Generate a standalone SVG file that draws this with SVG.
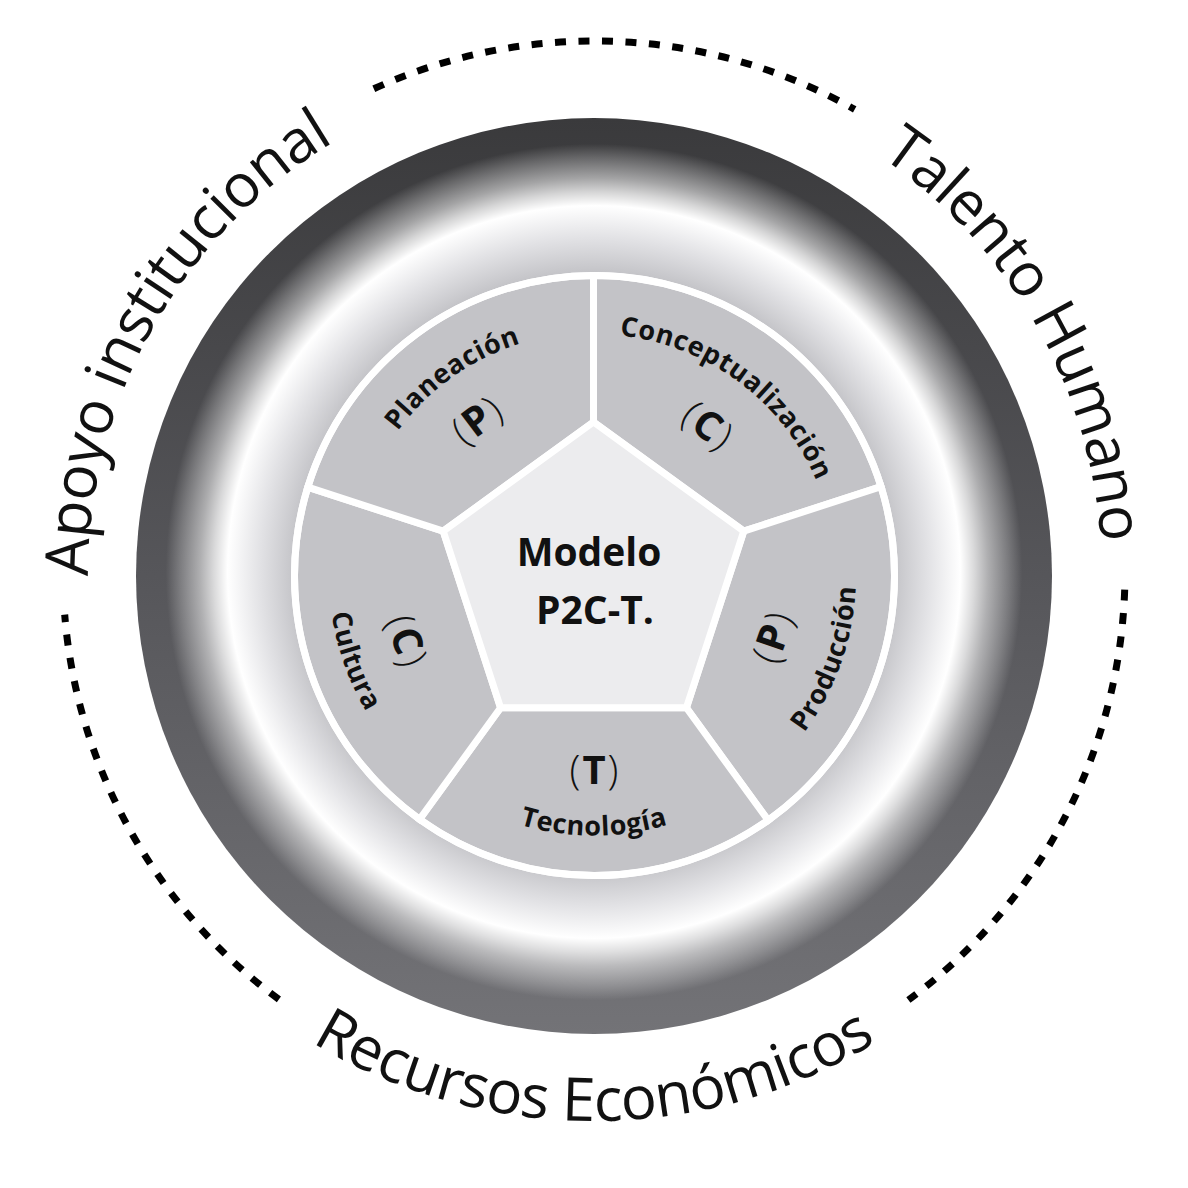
<svg xmlns="http://www.w3.org/2000/svg" xmlns:xlink="http://www.w3.org/1999/xlink" width="1188" height="1188" viewBox="0 0 1188 1188">
  <style>
    .outer { font-family: "Open Sans", "Noto Sans", "DejaVu Sans", sans-serif; font-size: 60px; font-weight: 400; fill: #111; letter-spacing: -0.6px; }
    .seg { font-family: "Open Sans", "Noto Sans", "DejaVu Sans", sans-serif; font-size: 27px; font-weight: 700; fill: #111; letter-spacing: 0.6px; }
    .par { font-family: "Open Sans", "Noto Sans", "DejaVu Sans", sans-serif; font-size: 40px; font-weight: 300; fill: #111; letter-spacing: 2px; }
    .par .b { font-weight: 700; }
    .center { font-family: "Open Sans", "Noto Sans", "DejaVu Sans", sans-serif; font-size: 39px; font-weight: 700; fill: #111; }
    .segshape { fill: #c3c3c7; stroke: #ffffff; stroke-width: 7; stroke-linejoin: miter; }
    .dots { fill: none; stroke: #000; stroke-width: 7; stroke-dasharray: 11 12.5; }
  </style>
  <defs>
    <linearGradient id="darkGrad" gradientUnits="userSpaceOnUse" x1="0" y1="118" x2="0" y2="1034">
      <stop offset="0" stop-color="#3a3a3c"/>
      <stop offset="0.5" stop-color="#56565a"/>
      <stop offset="1" stop-color="#737377"/>
    </linearGradient>
    <radialGradient id="lightGrad" gradientUnits="userSpaceOnUse" cx="594" cy="572" r="458">
      <stop offset="0" stop-color="#c4c4c8" stop-opacity="1"/>
      <stop offset="0.655" stop-color="#c4c4c8" stop-opacity="1"/>
      <stop offset="0.73" stop-color="#e2e2e5" stop-opacity="1"/>
      <stop offset="0.80" stop-color="#ffffff" stop-opacity="1"/>
      <stop offset="0.83" stop-color="#ffffff" stop-opacity="0.78"/>
      <stop offset="0.86" stop-color="#ffffff" stop-opacity="0.53"/>
      <stop offset="0.905" stop-color="#ffffff" stop-opacity="0.22"/>
      <stop offset="0.935" stop-color="#ffffff" stop-opacity="0"/>
      <stop offset="1" stop-color="#ffffff" stop-opacity="0"/>
    </radialGradient>
    <path id="pApoyo" d="M158.0,832.8 A506,506 0 0 1 589.6,70.0"/>
    <path id="pTalento" d="M596.2,68.0 A508,508 0 0 1 1032.8,831.9"/>
    <path id="pRecursos" d="M122.0,848.5 A545,545 0 0 0 1066.0,848.5"/>
    <path id="pPlan" d="M351.1,599.4 A244,244 0 0 1 695.2,354.0"/>
    <path id="pConc" d="M497.5,354.1 A242,242 0 0 1 834.4,603.4"/>
    <path id="pProd" d="M641.7,833.6 A262,262 0 0 0 793.2,405.8"/>
    <path id="pTec" d="M369.4,705.5 A259,259 0 0 0 818.6,705.5"/>
    <path id="pCult" d="M392.5,403.9 A265,265 0 0 0 545.7,836.6"/>
  </defs>

  <rect width="1188" height="1188" fill="#ffffff"/>

  <g id="ring">
    <circle cx="594" cy="576" r="458" fill="url(#darkGrad)"/>
    <circle cx="594" cy="576" r="458" fill="url(#lightGrad)"/>
  </g>

  <g id="outer-labels">
    <g id="apoyo-institucional">
      <text class="outer"><textPath href="#pApoyo" xlink:href="#pApoyo" startOffset="50%" text-anchor="middle">Apoyo institucional</textPath></text>
    </g>
    <g id="talento-humano">
      <text class="outer"><textPath href="#pTalento" xlink:href="#pTalento" startOffset="50%" text-anchor="middle">Talento Humano</textPath></text>
    </g>
    <g id="recursos-economicos">
      <text class="outer"><textPath href="#pRecursos" xlink:href="#pRecursos" startOffset="50%" text-anchor="middle">Recursos Económicos</textPath></text>
    </g>
  </g>

  <g id="connectors">
    <path class="dots" d="M373.8,88.8 A531,531 0 0 1 854.7,109.4"/>
    <path class="dots" d="M1124.7,589.6 A531,531 0 0 1 908.4,1000.0"/>
    <path class="dots" d="M278.9,999.4 A531,531 0 0 1 64.7,614.6"/>
  </g>

  <g id="seg-conceptualizacion">
    <path class="segshape" d="M593.5,422 L593.5,275.5 A300,300 0 0 1 881.0,486.6 L743.8,531.2 Z"/>
    <text class="seg"><textPath href="#pConc" xlink:href="#pConc" startOffset="50%" text-anchor="middle">Conceptualización</textPath></text>
    <text class="par" transform="translate(707.7,425.1) rotate(37)" x="1" y="14" text-anchor="middle">(<tspan class="b">C</tspan>)</text>
  </g>

  <g id="seg-produccion">
    <path class="segshape" d="M743.8,531.2 L881.0,486.6 A300,300 0 0 1 768.1,820.3 L686.4,707.8 Z"/>
    <text class="seg"><textPath href="#pProd" xlink:href="#pProd" startOffset="50%" text-anchor="middle">Producción</textPath></text>
    <text class="par" transform="translate(772.7,637.5) rotate(-71)" x="1" y="14" text-anchor="middle">(<tspan class="b">P</tspan>)</text>
  </g>

  <g id="seg-tecnologia">
    <path class="segshape" d="M686.4,707.8 L768.1,820.3 A300,300 0 0 1 419.6,819.3 L500.6,707.8 Z"/>
    <text class="seg"><textPath href="#pTec" xlink:href="#pTec" startOffset="50%" text-anchor="middle">Tecnología</textPath></text>
    <text class="par" transform="translate(594,770) rotate(0)" x="1" y="14" text-anchor="middle">(<tspan class="b">T</tspan>)</text>
  </g>

  <g id="seg-cultura">
    <path class="segshape" d="M500.6,707.8 L419.6,819.3 A300,300 0 0 1 307.8,487.2 L443.2,531.2 Z"/>
    <text class="seg"><textPath href="#pCult" xlink:href="#pCult" startOffset="50%" text-anchor="middle">Cultura</textPath></text>
    <text class="par" transform="translate(406.8,640.5) rotate(71)" x="1" y="14" text-anchor="middle">(<tspan class="b">C</tspan>)</text>
  </g>

  <g id="seg-planeacion">
    <path class="segshape" d="M443.2,531.2 L307.8,487.2 A300,300 0 0 1 593.5,275.5 L593.5,422 Z"/>
    <text class="seg"><textPath href="#pPlan" xlink:href="#pPlan" startOffset="50%" text-anchor="middle">Planeación</textPath></text>
    <text class="par" transform="translate(476.6,420.3) rotate(-37)" x="1" y="14" text-anchor="middle">(<tspan class="b">P</tspan>)</text>
  </g>

  <circle id="disc-border" cx="594.5" cy="575.5" r="300" fill="none" stroke="#ffffff" stroke-width="7"/>

  <g id="modelo-p2ct">
    <polygon points="593.5,422 743.8,531.2 686.4,707.8 500.6,707.8 443.2,531.2" fill="#ececee" stroke="#ffffff" stroke-width="7" stroke-linejoin="miter"/>
    <text class="center" x="589" y="566" text-anchor="middle">Modelo</text>
    <text class="center" x="595" y="624" text-anchor="middle">P2C-T.</text>
  </g>
</svg>
